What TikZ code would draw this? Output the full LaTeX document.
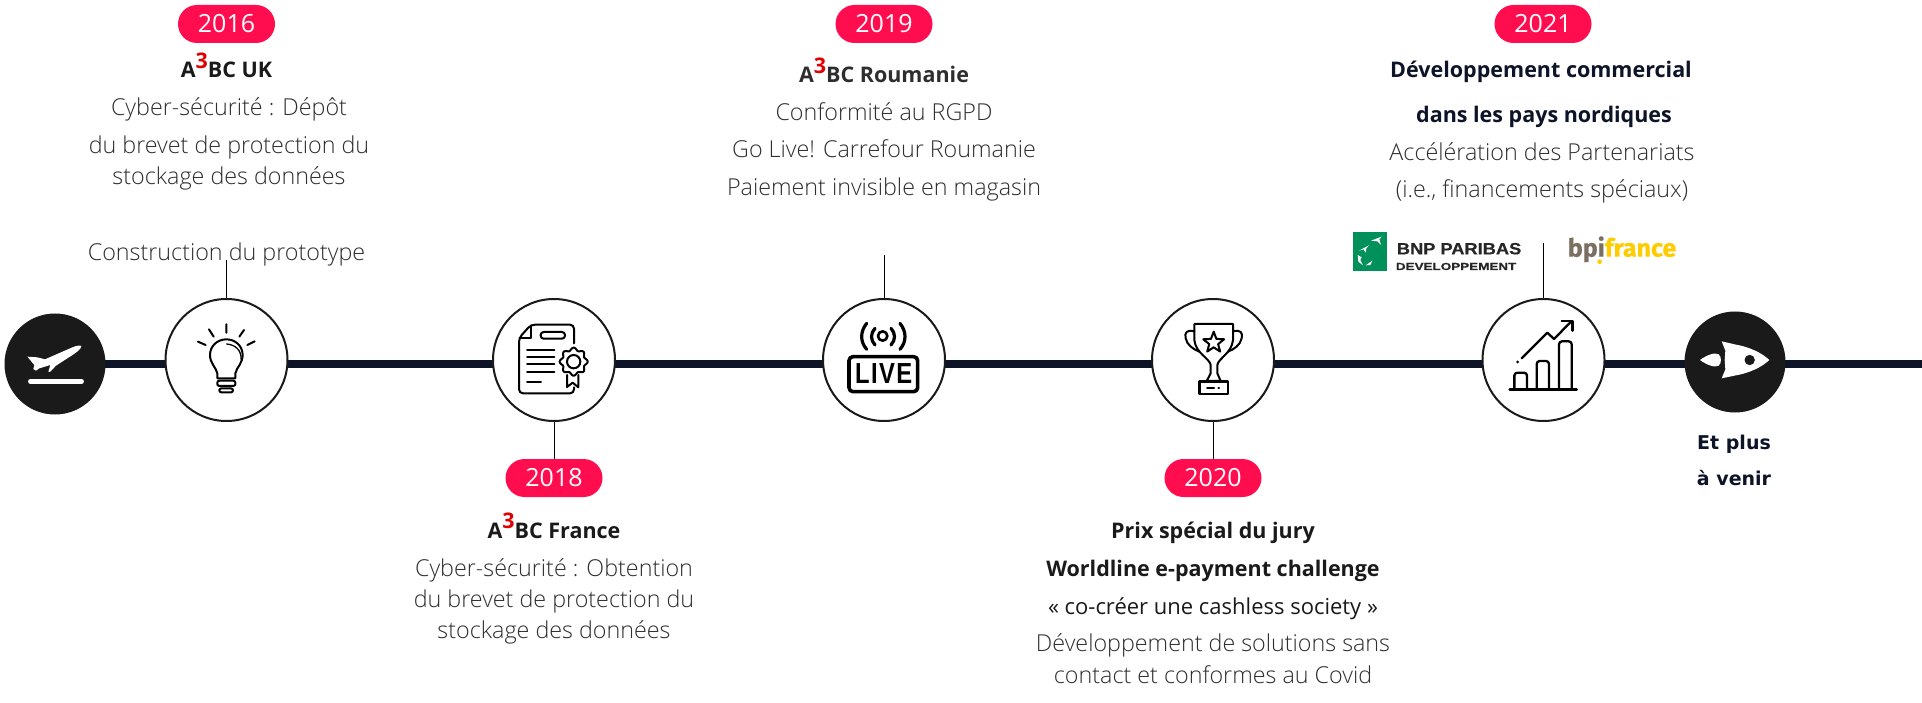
\documentclass[tikz,border=0pt]{standalone}
\usepackage{fontspec}
\setmainfont{Open Sans}
\IfFontExistsTF{Open Sans Light}{\newfontfamily\lightf{Open Sans Light}}{\newfontfamily\lightf{Open Sans}}
\newfontfamily\regf{Open Sans}
\newfontfamily\plusf{DejaVu Sans}
\newfontfamily\livef[FakeStretch=0.82,LetterSpace=5,BoldFont={Liberation Sans Bold},BoldFeatures={FakeStretch=0.82,LetterSpace=5}]{Liberation Sans}
\newfontfamily\bnpf[BoldFont={Liberation Sans Bold},BoldFeatures={FakeStretch=1.12,FakeBold=0.4}]{Liberation Sans}
\newfontfamily\devf[BoldFont={Liberation Sans Bold},BoldFeatures={FakeStretch=1.32,FakeBold=0.4}]{Liberation Sans}
\newfontfamily\bpif[BoldFeatures={FakeBold=0.6}]{Fira Sans}
\definecolor{navy}{HTML}{0D1428}
\definecolor{pinkc}{HTML}{FF0D4F}
\definecolor{txt}{HTML}{2E2E2E}
\definecolor{dark}{HTML}{1A1A1A}
\definecolor{redc}{HTML}{E00000}
\definecolor{bnpg}{HTML}{00915A}
\definecolor{bpig}{HTML}{7A6F60}
\definecolor{bpiy}{HTML}{FFCC00}
\newcommand{\athree}{A\raisebox{.42em}{\textcolor{redc}{3}}BC}
\pgfdeclarelayer{bg}
\pgfsetlayers{bg,main}
\tikzset{
 lbl/.style={anchor=base,align=center,inner sep=0pt,text=txt,font=\lightf\fontsize{23.3}{26}\selectfont},
 hd/.style={anchor=base,align=center,inner sep=0pt,text=dark,font=\regf\fontsize{21.5}{26}\bfseries\selectfont},
 hdn/.style={hd,text=navy},
 pill/.style={rounded corners=19pt,fill=pinkc,text=white,minimum width=97pt,minimum height=38pt,inner sep=0pt,font=\regf\fontsize{25}{25}\selectfont},
 stage/.style={circle,draw=dark,line width=2pt,fill=white,minimum size=122pt,inner sep=0pt},
 endc/.style={circle,fill=dark,minimum size=101pt,inner sep=0pt},
 stem/.style={draw=black,line width=0.9pt},
 mainl/.style={draw=navy,line width=8pt},
 icon/.style={shift={#1},scale=0.33333},
 ic/.style={draw=black,line width=2pt,line cap=round,line join=round},
}
\begin{document}
\begin{tikzpicture}[x=1pt,y=-1pt]
\useasboundingbox (0,0) rectangle (1922,703);
% circles
\node[endc] (plane) at (55,364) {};
\node[stage] (c16) at (226.5,360) {};
\node[stage] (c18) at (554,360) {};
\node[stage] (c19) at (884,360) {};
\node[stage] (c20) at (1213,360) {};
\node[stage] (c21) at (1543.5,360) {};
\node[endc] (rocket) at (1735,362) {};
\coordinate (lineend) at (1922,364);
\begin{pgfonlayer}{bg}
\fill[white] (0,0) rectangle (1922,703);
\draw[mainl] (plane.center) -- (lineend);
\end{pgfonlayer}
% pills
\node[pill] (p16) at (226.5,24) {2016};
\node[pill] (p18) at (554,478) {2018};
\node[pill] (p19) at (884,24) {2019};
\node[pill] (p20) at (1213,478) {2020};
\node[pill] (p21) at (1543,24) {2021};
% stems
\coordinate (s16) at (226.5,260);
\coordinate (s19) at (884,255);
\coordinate (s21) at (1543.5,243);
\draw[stem] (c16.north) -- (s16);
\draw[stem] (c19.north) -- (s19);
\draw[stem] (c21.north) -- (s21);
\draw[stem] (c18.south) -- (p18.north);
\draw[stem] (c20.south) -- (p20.north);
% 2016
\node[hd] (t16a) at (226.5,78) {\athree{} UK};
\node[lbl] (t16b) at (229,116) {Cyber-sécurité : Dépôt};
\node[lbl] (t16c) at (229,154) {du brevet de protection du};
\node[lbl] (t16d) at (229,185) {stockage des données};
\node[lbl] (t16e) at (226.5,261) {Construction du prototype};
% 2018
\node[hd] (t18a) at (554,538) {\athree{} France};
\node[lbl] (t18b) at (554,576.5) {Cyber-sécurité : Obtention};
\node[lbl] (t18c) at (554,607.5) {du brevet de protection du};
\node[lbl] (t18d) at (554,638.5) {stockage des données};
% 2019
\node[hd,text=txt] (t19a) at (884,83) {\athree{} Roumanie};
\node[lbl] (t19b) at (884,121) {Conformité au RGPD};
\node[lbl] (t19c) at (884,158) {Go Live! Carrefour Roumanie};
\node[lbl] (t19d) at (884,196) {Paiement invisible en magasin};
% 2020
\node[hd] (t20a) at (1213,538) {Prix spécial du jury};
\node[hd] (t20b) at (1213,576) {Worldline e-payment challenge};
\node[lbl,font=\regf\fontsize{22}{26}\selectfont,text=dark] (t20c) at (1213,614) {« co-créer une cashless society »};
\node[lbl] (t20d) at (1213,651.5) {Développement de solutions sans};
\node[lbl] (t20e) at (1213,683.5) {contact et conformes au Covid};
% 2021
\node[hdn] (t21a) at (1541,78) {Développement commercial};
\node[hdn] (t21b) at (1544,123) {dans les pays nordiques};
\node[lbl] (t21c) at (1542,161) {Accélération des Partenariats};
\node[lbl] (t21d) at (1542,198) {(i.e., financements spéciaux)};
% et plus
\node[anchor=base,inner sep=0pt,text=navy,font=\plusf\fontsize{19}{19}\bfseries\selectfont] (t22a) at (1734,449) {Et plus};
\node[anchor=base,inner sep=0pt,text=navy,font=\plusf\fontsize{19}{19}\bfseries\selectfont] (t22b) at (1734,485) {à venir};
% plane icon
\begin{scope}[icon={(0,305)}]
\fill[white] (82,155) -- (112,157) -- (135,163) -- (215,128) .. controls (230,121) and (243,120) .. (244,124) .. controls (244,132) and (225,146) .. (205,158) -- (168,182) -- (150,201) -- (145,200) -- (151,180) -- (118,190) -- (108,197) -- (100,192) -- (103,180) -- cycle;
\draw[white,line width=4.5pt,line cap=round] (91,229) -- (245,229);
\end{scope}
% bulb
\begin{scope}[icon={(180,310)}]
\draw[ic] (112,205) -- (112,190) .. controls (108,172) and (90,160) .. (90,135) .. controls (90,108) and (112,88) .. (139,88) .. controls (166,88) and (188,108) .. (188,135) .. controls (188,160) and (170,172) .. (166,190) -- (166,205) -- cycle;
\draw[ic,line width=1.3pt] (140,102) .. controls (165,104) and (185,120) .. (183,148);
\draw[ic,rounded corners=2pt] (112,212) rectangle (166,228);
\draw[ic,rounded corners=2pt] (118,235) rectangle (159,247);
\draw[ic] (139,43) -- (139,68) (87,58) -- (101,80) (192,60) -- (178,80) (54,95) -- (77,105) (224,94) -- (202,105);
\end{scope}
% certificate
\begin{scope}[icon={(505,310)}]
\draw[ic,rounded corners=4pt] (207,100) -- (207,44) -- (78,44) -- (42,84) -- (42,250) -- (207,250) -- (207,232);
\draw[ic] (78,46) -- (78,84) -- (44,84);
\draw[ic,rounded corners=3pt] (150,66) -- (107,66) -- (107,86) -- (180,86) -- (180,66) -- (125,66);
\draw[ic] (66,120) -- (148,120) (66,141) -- (148,141) (66,163) -- (148,163) (66,185) -- (148,185) (66,217) -- (108,217);
\draw[ic,fill=white] plot[domain=0:360,samples=145] ({206+(38+4*cos(8*\x))*cos(\x)},{155+(38+4*cos(8*\x))*sin(\x)});
\draw[ic] (206,155) circle (20);
\draw[ic] (186,195) -- (186,231) -- (203,218) -- (220,232) -- (220,195);
\end{scope}
% live
\begin{scope}[icon={(835,310)}]
\draw[ic,line width=3.6pt,rounded corners=4pt] (42,140) rectangle (248,245);
\node[inner sep=0pt,text=black,font=\livef\fontsize{29}{29}\bfseries\selectfont] (live) at (146,192) {LIVE};
\draw[ic,line width=2.6pt] (143,78) circle (14);
\draw[ic,line width=3.2pt] (120,55) .. controls (106,70) and (106,90) .. (120,105);
\draw[ic,line width=3.2pt] (168,55) .. controls (182,70) and (182,90) .. (168,105);
\draw[ic,line width=3.2pt] (95,40) .. controls (75,65) and (75,95) .. (95,118);
\draw[ic,line width=3.2pt] (195,40) .. controls (215,65) and (215,95) .. (195,118);
\end{scope}
% trophy
\begin{scope}[icon={(1165,310)}]
\draw[ic] (88,42) -- (204,42) -- (204,90) .. controls (200,130) and (160,145) .. (157,165) -- (157,190) -- (167,213) -- (125,213) -- (137,190) -- (137,165) .. controls (134,145) and (92,130) .. (88,90) -- cycle;
\draw[ic] (88,64) .. controls (65,58) and (58,68) .. (62,85) .. controls (66,105) and (85,118) .. (103,125);
\draw[ic] (204,64) .. controls (227,58) and (234,68) .. (230,85) .. controls (226,105) and (207,118) .. (189,125);
\draw[ic,line width=2.4pt] (103,215) rectangle (189,252);
\draw[ic] (126,233) -- (147,233) (160,233) -- (162,233);
\draw[ic] (146,65) -- (154.2,86.7) -- (177.4,87.8) -- (159.3,102.3) -- (165.4,124.7) -- (146,112) -- (126.6,124.7) -- (132.7,102.3) -- (114.6,87.8) -- (137.8,86.7) -- cycle;
\end{scope}
% chart
\begin{scope}[icon={(1495,310)}]
\draw[ic,line width=2.6pt] (44,238) -- (245,238);
\draw[ic,line width=2.3pt,rounded corners=3pt] (58,238) -- (58,188) -- (96,188) -- (96,238);
\draw[ic,line width=2.3pt,rounded corners=3pt] (125,238) -- (125,153) -- (162,153) -- (162,238);
\draw[ic,line width=2.3pt,rounded corners=3pt] (192,238) -- (192,94) -- (230,94) -- (230,238);
\draw[ic,line width=2.3pt] (80,145) -- (157,68) -- (177,87) -- (230,33);
\draw[ic,line width=2.3pt] (200,33) -- (232,33) -- (232,62);
\fill[black] (68,156) circle (4.5);
\end{scope}
% rocket
\begin{scope}[icon={(1680,310)}]
\fill[white] (268,150) .. controls (245,128) and (205,110) .. (168,104) -- (125,94) -- (136,122) -- (134,150) -- (136,178) -- (125,205) -- (168,196) .. controls (205,190) and (245,172) .. (268,150) -- cycle;
\fill[dark] (209,150) circle (15.5);
\fill[white] (60,150) .. controls (80,135) and (105,126) .. (116,133) .. controls (125,140) and (125,160) .. (116,167) .. controls (105,174) and (80,165) .. (60,150) -- cycle;
\end{scope}
% logos
\begin{scope}[icon={(1345,220)}]
\fill[bnpg] (23,35) rectangle (127,152);
\fill[white] (78,62) -- (110,50) -- (103,58) -- (108,75) -- (97,64) -- cycle;
\fill[white] (42,92) -- (72,76) -- (64,85) -- (62,98) -- (56,88) -- cycle;
\fill[white] (38,105) -- (50,112) -- (46,120) -- (54,136) -- (40,125) -- cycle;
\fill[white] (62,136) -- (82,122) -- (76,135) -- cycle;
\node[anchor=base west,inner sep=0pt,text=black!85,font=\bnpf\fontsize{16.3}{16.3}\bfseries\selectfont] (bnp) at (155,103) {BNP PARIBAS};
\node[anchor=base west,inner sep=0pt,text=black!85,font=\devf\fontsize{10.2}{10.2}\bfseries\selectfont] (dev) at (152,150) {DEVELOPPEMENT};
\node[anchor=base west,inner sep=0pt,font=\bpif\fontsize{25}{25}\bfseries\selectfont] (bpi) at (668,110) {\textcolor{bpig}{bpi}\textcolor{bpiy}{france}};
\fill[bpiy] (764,125) circle (7);
\end{scope}
\end{tikzpicture}
\end{document}
